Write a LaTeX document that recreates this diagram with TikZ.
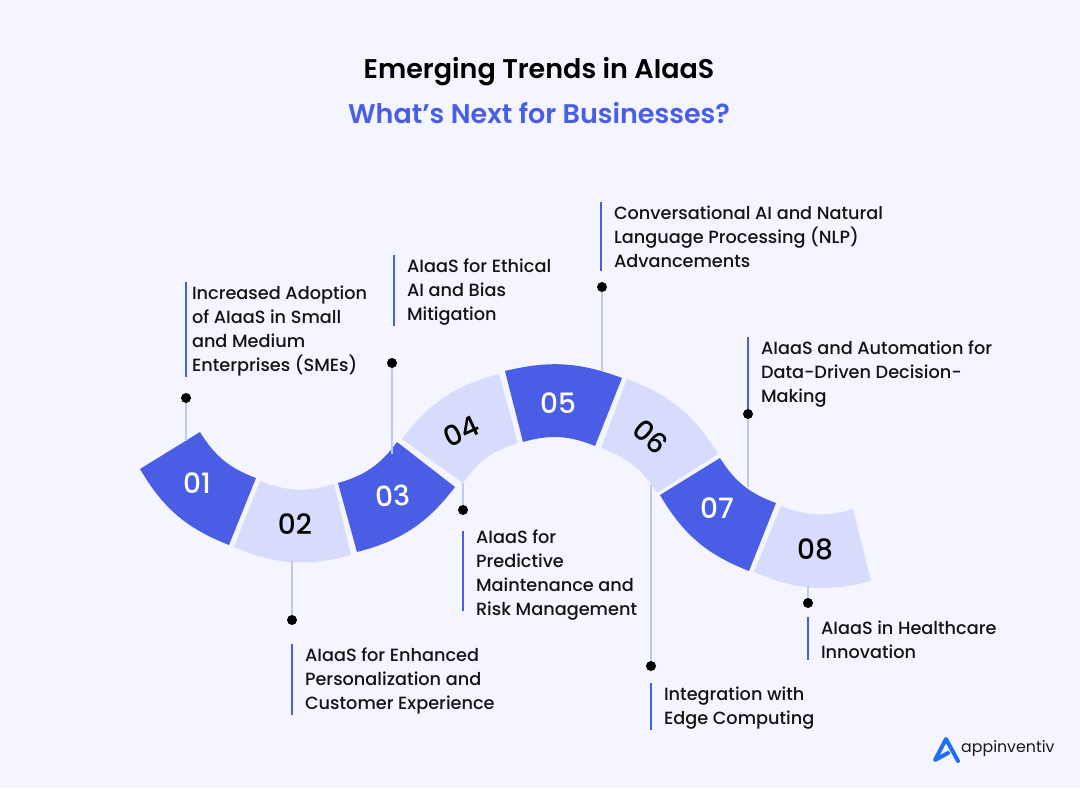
\documentclass[tikz,border=0pt]{standalone}
\usepackage{fontspec}
\setmainfont{Poppins}[UprightFont=* Medium,BoldFont=* SemiBold]
\newfontfamily\brandfont{Poppins}
\definecolor{pagebg}{HTML}{F4F5FF}
\definecolor{segdark}{HTML}{4A5EE5}
\definecolor{seglight}{HTML}{D8DCFC}
\definecolor{linkblue}{HTML}{BCCBE8}
\definecolor{logoblue}{HTML}{1F6FF2}
\tikzset{
  segdarkbox/.style={fill=segdark},
  seglightbox/.style={fill=seglight},
  numdark/.style={text=white,font=\fontsize{28}{28}\selectfont},
  numlight/.style={text=black,font=\fontsize{28}{28}\selectfont},
  trend/.style={anchor=west,align=left,inner ysep=0pt,outer sep=0pt,inner xsep=13pt,text=black!92,
    font=\fontsize{17.7}{24}\selectfont},
  barline/.style={draw=segdark,line width=2pt,shorten <=-4pt,shorten >=-1pt},
  link/.style={draw=linkblue,line width=1.1pt},
  dot/.style={circle,fill=black,inner sep=0pt,minimum size=10pt}
}
\begin{document}
\begin{tikzpicture}[x=1pt,y=-1pt]
    \useasboundingbox[fill=pagebg] (0,0) rectangle (1080,788);
    \node (title) at (539,72) {\fontsize{27}{27}\selectfont\bfseries Emerging Trends in AIaaS};
    \node [text=segdark] (subtitle) at (539,113) {\fontsize{27}{27}\selectfont\bfseries What’s Next for Businesses?};
    % ribbon
    \fill [segdarkbox] (140,469) -- (200,432) to[bend right=19] (256,478) -- (229,545) to[bend left=19] (140,469);
    \fill [seglightbox] (260,481) to[bend right=19] (334,484) -- (351,555) to[bend left=19] (234,547) -- cycle;
    \fill [segdarkbox] (338,483) to[bend right=19] (397,442) -- (455,487) to[bend left=19] (357,552) -- cycle;
    \fill [seglightbox] (402,439) to[bend left=19] (499,374) -- (518,443) to[bend right=19] (463,483) -- cycle;
    \fill [segdarkbox] (505,371) to[bend left=17] (622,378) -- (595,446) to[bend right=19] (523,442) -- cycle;
    \fill [seglightbox] (627,379) to[bend left=19] (718,454) -- (657,493) to[bend right=19] (601,448) -- cycle;
    \fill [segdarkbox] (720,458) to[bend right=19] (776,503) -- (749,571) to[bend left=19] (660,495) -- cycle;
    \fill [seglightbox] (781,506) to[bend right=19] (853,509) -- (871,581) to[bend left=19] (754,572) -- cycle;
    % numbers
    \node [numdark] (n1) at (197,483) {01};
    \node [numlight] (n2) at (295,524) {02};
    \node [numdark,rotate=5] (n3) at (393,496) {03};
    \node [numlight,rotate=25] (n4) at (461,431) {04};
    \node [numdark] (n5) at (558,403) {05};
    \node [numlight,rotate=-42] (n6) at (651,437) {06};
    \node [numdark] (n7) at (717,508) {07};
    \node [numlight] (n8) at (815,549) {08};
    % texts
    \node [trend,inner xsep=6pt] (t1) at (186,331) {Increased Adoption\\of AIaaS in Small\\and Medium\\Enterprises (SMEs)};
    \node [trend] (t2) at (292,681) {AIaaS for Enhanced\\Personalization and\\Customer Experience};
    \node [trend] (t3) at (394,292) {AIaaS for Ethical\\AI and Bias\\Mitigation};
    \node [trend] (t4) at (463,575) {AIaaS for\\Predictive\\Maintenance and\\Risk Management};
    \node [trend] (t5) at (601,237) {Conversational AI and Natural\\Language Processing (NLP)\\Advancements};
    \node [trend] (t6) at (651,708) {Integration with\\Edge Computing};
    \node [trend] (t7) at (748,374) {AIaaS and Automation for\\Data-Driven Decision-\\Making};
    \node [trend] (t8) at (808,640) {AIaaS in Healthcare\\Innovation};
    \foreach \t in {t1,t2,t3,t6,t8} {
        \draw [barline] (\t.north west) -- (\t.south west);
    }
    \foreach \t in {t5,t7} {
        \draw [barline,shorten >=-3pt] (\t.north west) -- (\t.south west);
    }
    \draw [barline,shorten <=0pt,shorten >=0pt] ([yshift=-1pt]t4.north west) -- ([yshift=9pt]t4.south west);
    % dots and links
    \node [dot] (d1) at (186,398) {};
    \node [dot] (d2) at (292,620) {};
    \node [dot] (d3) at (392,363) {};
    \node [dot] (d4) at (463,510) {};
    \node [dot] (d5) at (602,287) {};
    \node [dot] (d6) at (651,666) {};
    \node [dot] (d7) at (748,414) {};
    \node [dot] (d8) at (808,603) {};
    \coordinate (e1) at (186,441);
    \coordinate (e2) at (292,561);
    \coordinate (e3) at (392,454);
    \coordinate (e4) at (463,483);
    \coordinate (e5) at (602,371);
    \coordinate (e6) at (651,485);
    \coordinate (e7) at (748,487);
    \coordinate (e8) at (808,586);
    \foreach \i in {1,...,8} {
        \draw [link] (d\i) -- (e\i);
    }
    % logo
    \draw [logoblue,line width=4pt,line cap=round,line join=round] (948,753) -- (935,760) -- (946,739) -- (958,761);
    \node [anchor=west,inner sep=0pt,text=black!90] (brand) at (961,749) {\fontsize{15.8}{15.8}\brandfont appinventiv};
\end{tikzpicture}
\end{document}
